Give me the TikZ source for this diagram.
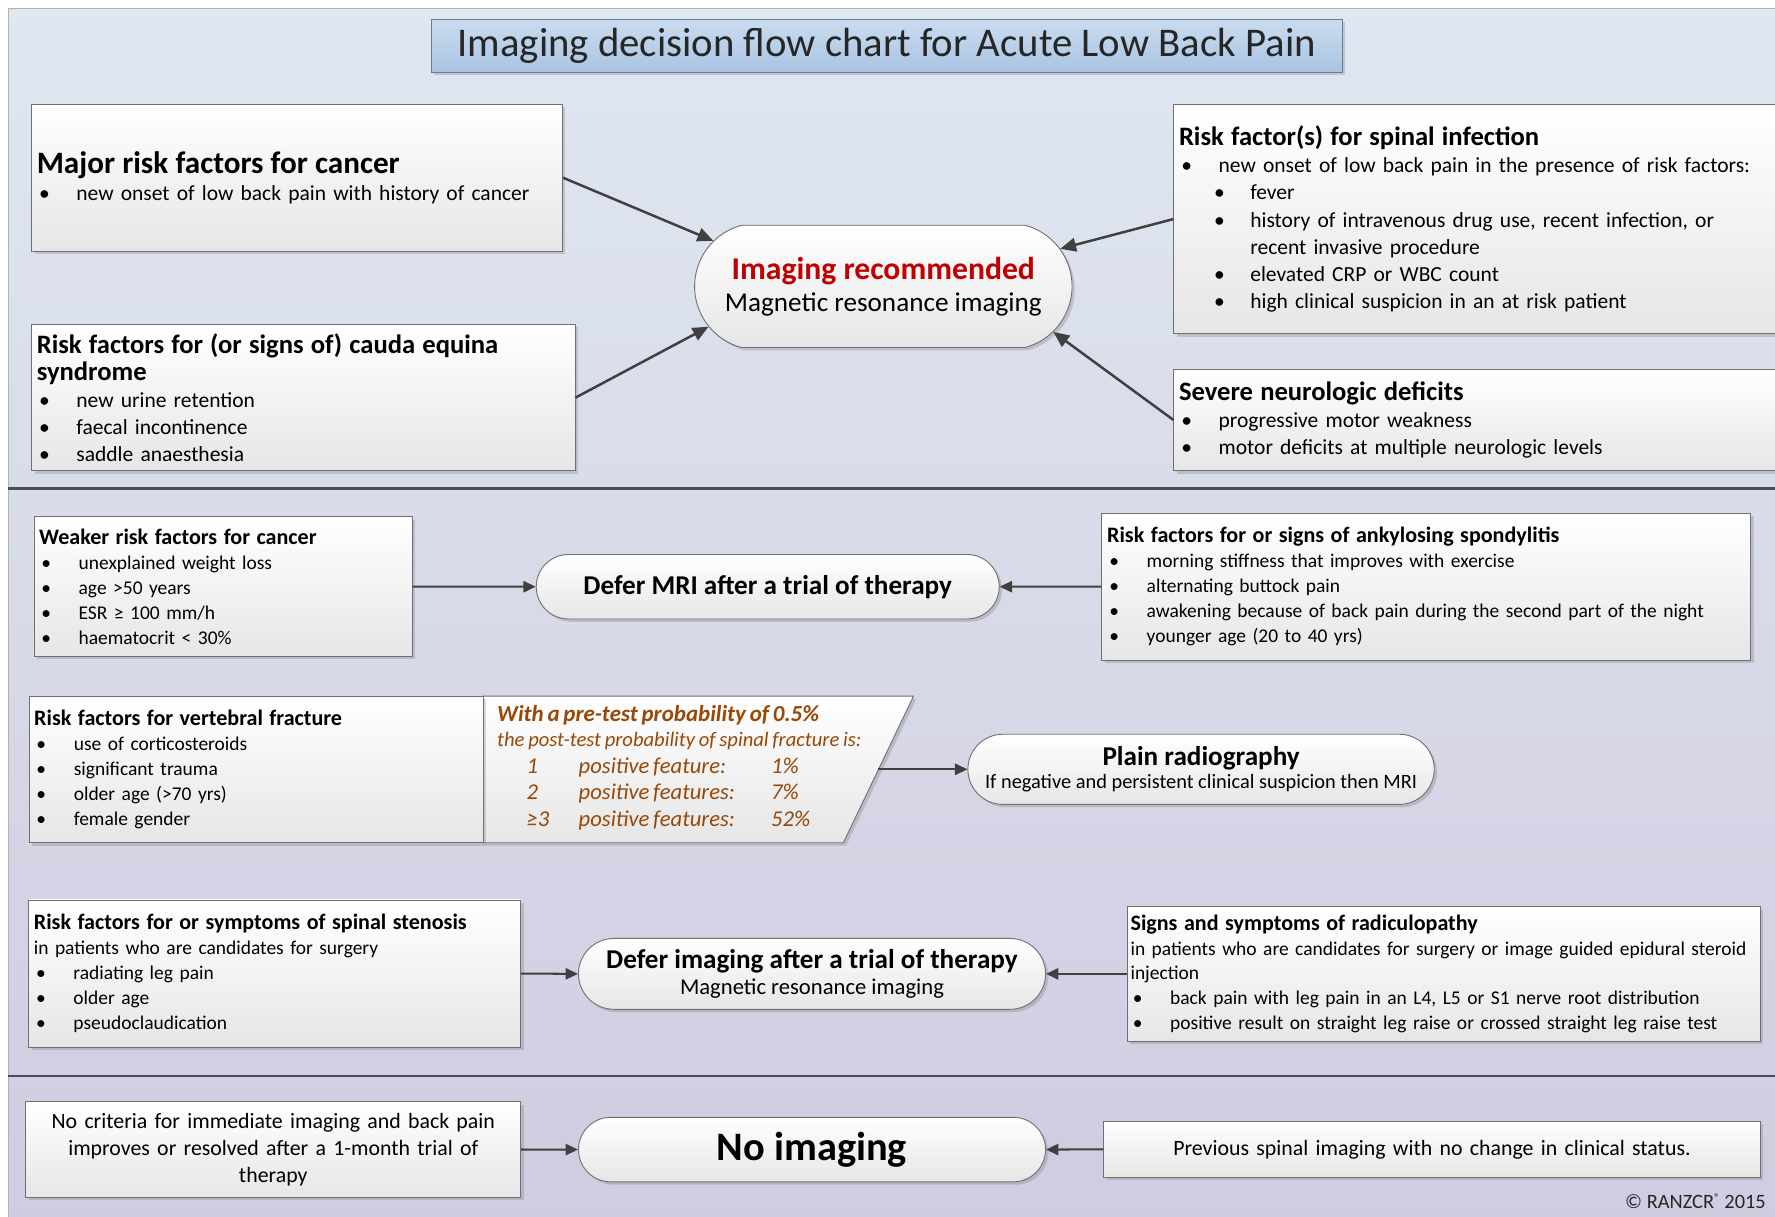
\documentclass[tikz,border=0pt]{standalone}
\usepackage{fontspec}
\setmainfont{Carlito}
\usetikzlibrary{arrows.meta,shadows,shapes.misc,positioning}

\definecolor{bgtop}{HTML}{DFE7F1}
\definecolor{bgbot}{HTML}{D0CBE0}
\definecolor{boxline}{HTML}{707070}
\definecolor{boxbot}{HTML}{E6E6E6}
\definecolor{arrowgray}{HTML}{404040}
\definecolor{sepgray}{HTML}{4A4D5A}
\definecolor{recred}{HTML}{C00000}
\definecolor{probbrown}{HTML}{984807}
\definecolor{titletop}{HTML}{CADCEF}
\definecolor{titlebot}{HTML}{A8C4E2}
\definecolor{titleline}{HTML}{6D7D91}

\newcommand\fsz[2]{\fontsize{#1}{#2}\selectfont}
\newcommand\itm[1]{\par\hangindent=35pt\hangafter=1\noindent\makebox[35pt][l]{\hspace{2pt}•}#1}
\newcommand\subitm[1]{\par\hangindent=63pt\hangafter=1\noindent\hspace{28pt}\makebox[35pt][l]{\hspace{3pt}•}#1}
\newcommand\prow[3]{\par\noindent\hspace{26pt}\makebox[46pt][l]{#1}\makebox[170pt][l]{#2}#3}

\begin{document}
\begin{tikzpicture}[x=1pt,y=-1pt]
\tikzset{shadowed/.style={drop shadow={shadow xshift=2.5pt,shadow yshift=-2.5pt,opacity=0.25,fill=black!60}}}
\tikzset{riskbox/.style={draw=boxline,line width=0.8pt,top color=white,bottom color=boxbot,shadowed,
  inner xsep=4.5pt,inner ysep=2pt,align=left,font=\fsz{19}{24}}}
\tikzset{smallbox/.style={riskbox,font=\fsz{17.2}{22}}}
\tikzset{stadium/.style={rounded rectangle,draw=boxline,line width=0.8pt,top color=white,bottom color=boxbot,
  shadowed,align=center,inner sep=0pt}}
\tikzset{titlebox/.style={draw=titleline,line width=0.8pt,top color=titletop,bottom color=titlebot,shadowed,
  font=\fsz{36}{40},text=black!85}}
\tikzset{prettext/.style={inner sep=0pt,text width=340pt,align=left,text=probbrown,font=\itshape}}
\tikzset{arr/.style={draw=arrowgray,line width=2.2pt,-{Triangle[length=14pt,width=12pt]}}}
\tikzset{harr/.style={draw=arrowgray,line width=1.8pt,-{Triangle[length=11pt,width=10pt]}}}
\tikzset{sepline/.style={draw=sepgray,line width=2.5pt}}

\useasboundingbox (0,0) rectangle (1568,1075);
\shade[top color=bgtop,bottom color=bgbot,draw=gray!60] (7.5,7.5) rectangle (1620,1100);
\draw[sepline] (7.5,431.5) -- (1620,431.5);
\draw[sepline] (7.5,950.5) -- (1620,950.5);

\node[titlebox,minimum width=804.6pt,minimum height=47pt] (title) at (783.3,40.5)
  {Imaging decision flow chart for Acute Low Back Pain};

\node[riskbox,minimum width=469pt,minimum height=130pt,text width=460pt] (major) at (262.5,157)
  {{\fsz{27.5}{30}\bfseries Major risk factors for cancer}
   \itm{new onset of low back pain with history of cancer}};
\node[riskbox,minimum width=480pt,minimum height=129.5pt,text width=471pt] (cauda) at (268,351.25)
  {{\fsz{23.5}{28}\bfseries Risk factors for (or signs of) cauda equina\\syndrome}
   \itm{new urine retention}
   \itm{faecal incontinence}
   \itm{saddle anaesthesia}};
\node[riskbox,minimum width=563pt,minimum height=203pt,text width=554pt] (infection) at (1318.5,193.5)
  {{\fsz{23.5}{27}\bfseries Risk factor(s) for spinal infection}
   \itm{new onset of low back pain in the presence of risk factors:}
   \subitm{fever}
   \subitm{history of intravenous drug use, recent infection, or\newline recent invasive procedure}
   \subitm{elevated CRP or WBC count}
   \subitm{high clinical suspicion in an at risk patient}};
\node[riskbox,minimum width=563pt,minimum height=90pt,text width=554pt] (severe) at (1318.5,371)
  {{\fsz{23.5}{27}\bfseries Severe neurologic deficits}
   \itm{progressive motor weakness}
   \itm{motor deficits at multiple neurologic levels}};
\node[stadium,rounded rectangle arc length=150,minimum width=333.4pt,minimum height=108pt] (imgrec) at (780.3,253)
  {{\fsz{28}{32}\bfseries\color{recred}Imaging recommended}\\[6pt]{\fsz{24}{30}Magnetic resonance imaging}};

\draw[arr] (major.east) -- (imgrec.165);
\draw[arr] (cauda.east) -- (imgrec.193);
\draw[arr] (infection.west) -- (imgrec.12);
\draw[arr] (severe.west) -- (imgrec.-15);

\node[smallbox,minimum width=334pt,minimum height=123.5pt,text width=325pt] (weaker) at (197,518.25)
  {{\fsz{19.5}{22}\bfseries Weaker risk factors for cancer}
   \itm{unexplained weight loss}
   \itm{age >50 years}
   \itm{ESR ≥ 100 mm/h}
   \itm{haematocrit < 30\%}};
\node[smallbox,minimum width=573.2pt,minimum height=129.5pt,text width=564pt] (ankylos) at (1260,518.25)
  {{\fsz{19.5}{22}\bfseries Risk factors for or signs of ankylosing spondylitis}
   \itm{morning stiffness that improves with exercise}
   \itm{alternating buttock pain}
   \itm{awakening because of back pain during the second part of the night}
   \itm{younger age (20 to 40 yrs)}};
\node[stadium,minimum width=409pt,minimum height=57pt] (defermri) at (678.2,518.3)
  {\fsz{24}{28}\bfseries Defer MRI after a trial of therapy};

\draw[harr] (weaker.east) -- (defermri.west);
\draw[harr] (ankylos.west) -- (defermri.east);

\path[draw=boxline,line width=0.8pt,top color=white,bottom color=boxbot,shadowed]
  (426.7,614.9) -- (807,614.9) -- (745,744.5) -- (426.7,744.5) -- cycle;
\node[prettext,anchor=north west] (pretest) at (439,623)
  {{\fsz{20.3}{22}\bfseries With a pre-test probability of 0.5\%\par}
   {\fsz{18.2}{22}the post-test probability of spinal fracture is:\par}
   {\fsz{20}{23.5}\prow{1}{positive feature:}{1\%}\prow{2}{positive features:}{7\%}\prow{≥3}{positive features:}{52\%}\par}};
\node[smallbox,minimum width=401pt,minimum height=129.6pt,text width=392pt] (fracture) at (226.2,679.7)
  {{\fsz{19.5}{22}\bfseries Risk factors for vertebral fracture}
   \itm{use of corticosteroids}
   \itm{significant trauma}
   \itm{older age (>70 yrs)}
   \itm{female gender}\par\vspace{6pt}};
\coordinate (pretout) at (776,679.6);
\node[stadium,minimum width=412pt,minimum height=62pt] (plain) at (1061,679.6)
  {{\fsz{24}{26}\bfseries Plain radiography}\\[3pt]{\fsz{18}{22}If negative and persistent clinical suspicion then MRI}};

\draw[harr] (pretout) -- (plain.west);

\node[smallbox,minimum width=434.6pt,minimum height=130pt,text width=425.6pt] (stenosis) at (242.7,860)
  {{\fsz{19.5}{22}\bfseries Risk factors for or symptoms of spinal stenosis}\par
   in patients who are candidates for surgery
   \itm{radiating leg pain}
   \itm{older age}
   \itm{pseudoclaudication}};
\node[smallbox,inner xsep=3pt,minimum width=559.3pt,minimum height=118.6pt,text width=553.3pt] (radic) at (1275.35,860.3)
  {{\fsz{19.5}{22}\bfseries Signs and symptoms of radiculopathy}\par
   in patients who are candidates for surgery or image guided epidural steroid\newline injection
   \itm{back pain with leg pain in an L4, L5 or S1 nerve root distribution}
   \itm{positive result on straight leg raise or crossed straight leg raise test}};
\node[stadium,minimum width=412.6pt,minimum height=62.6pt] (deferimg) at (717.3,860.3)
  {{\fsz{24}{26}\bfseries Defer imaging after a trial of therapy}\\[4pt]{\fsz{20}{24}Magnetic resonance imaging}};

\draw[harr] (stenosis.east) -- (deferimg.west);
\draw[harr] (radic.west) -- (deferimg.east);

\node[riskbox,align=center,font=\fsz{19.3}{24},minimum width=437.2pt,minimum height=84.5pt,text width=428pt] (nocrit) at (241.4,1015.45)
  {No criteria for immediate imaging and back pain\\improves or resolved after a 1-month trial of\\therapy};
\node[riskbox,align=center,font=\fsz{19.3}{24},minimum width=580pt,minimum height=50pt,text width=571pt] (previous) at (1265,1015.3)
  {Previous spinal imaging with no change in clinical status.};
\node[stadium,minimum width=412.6pt,minimum height=57pt] (noimg) at (717.3,1015.5)
  {\fsz{35.7}{40}\bfseries No imaging};

\draw[harr] (nocrit.east) -- (noimg.west);
\draw[harr] (previous.west) -- (noimg.east);

\node[anchor=base east,inner sep=0pt,font=\fsz{18}{22},text=black!85] (copy) at (1560,1067.4)
  {© RANZCR{\fsz{10}{12}\raisebox{6pt}{®}} 2015};
\end{tikzpicture}
\end{document}
